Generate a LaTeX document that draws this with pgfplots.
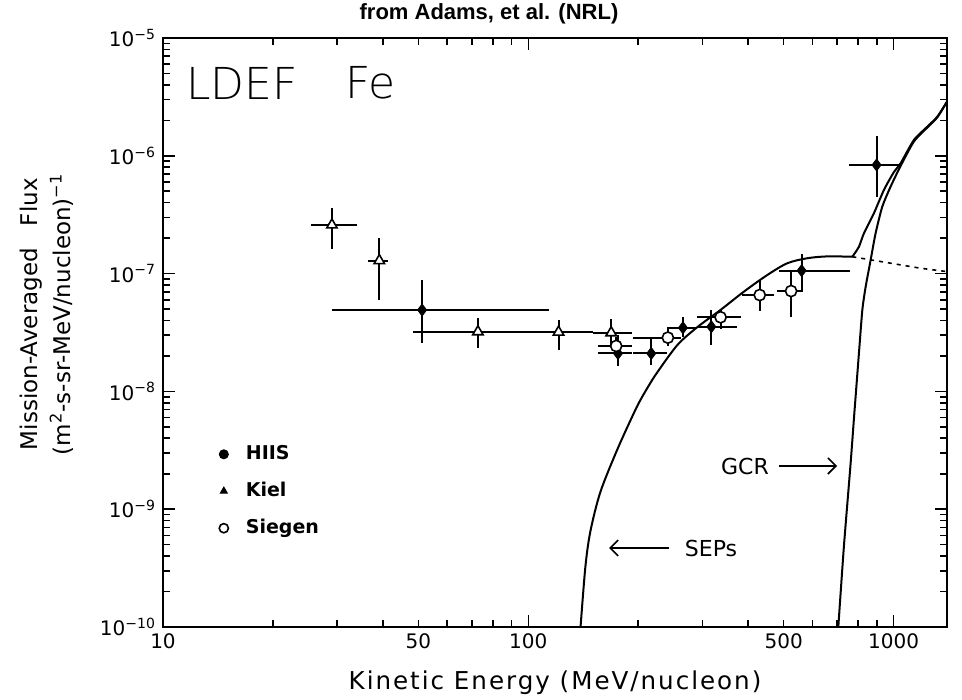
\documentclass[border=0pt]{standalone}
\usepackage{fontspec}
\setmainfont{DejaVu Sans}
\newfontfamily\titlefont{Liberation Sans}
\newfontfamily\thinfont{DejaVu Sans ExtraLight}
\usepackage{pgfplots}
\usepackage{pgfplotstable}
\pgfplotsset{compat=1.18}
\usetikzlibrary{arrows.meta}

% HIIS: x, y, x-minus, x-plus, y-minus, y-plus
\pgfplotstableread{
x y xm xp ym yp
51.2 4.91e-8 22.2 62.8 2.35e-8 3.89e-8
176 2.10e-8 20.5 16 0.45e-8 0.9e-8
217 2.10e-8 23 23 0.42e-8 0.72e-8
265 3.47e-8 25 22 0.57e-8 0.83e-8
317 3.54e-8 27 56 1.06e-8 1.37e-8
560 1.06e-7 76 199 3.34e-8 4.1e-8
898 8.36e-7 144 143 3.92e-7 6.34e-7
}\hiis

\pgfplotstableread{
x y xm xp ym yp
29 2.59e-7 3.6 5.0 0.97e-7 1.01e-7
39.1 1.29e-7 2.7 2.2 0.693e-7 0.71e-7
72.8 3.21e-8 24.4 22.2 0.89e-8 0.96e-8
121 3.19e-8 26 29 0.95e-8 0.85e-8
168.6 3.15e-8 18.6 23.4 0.75e-8 0.95e-8
}\kiel

\pgfplotstableread{
x y xm xp ym yp
174 2.43e-8 18.5 18 0.43e-8 0.47e-8
241 2.86e-8 47 20 0.43e-8 0.69e-8
336 4.26e-8 46 45 0.86e-8 0.64e-8
430 6.58e-8 45 40 1.74e-8 2.25e-8
524 7.11e-8 44 42 2.85e-8 3.29e-8
}\siegen

\begin{document}
\begin{tikzpicture}
\useasboundingbox (-81.5pt,-36.5pt) rectangle (399.5pt,313.5pt);
\begin{axis}[
  at={(0pt,0pt)}, anchor=south west,
  scale only axis, width=392pt, height=294.5pt,
  xmode=log, ymode=log,
  xmin=10, xmax=1400, ymin=1e-10, ymax=1e-5,
  clip=false,
  axis line style={line width=1pt},
  xtick={10,100,1000}, xticklabels={10,100,1000},
  extra x ticks={50,500}, extra x tick labels={50,500},
  extra x tick style={major tick length=3.5pt},
  minor xtick={20,30,40,60,70,80,90,200,300,400,600,700,800,900},
  ytick={1e-10,1e-9,1e-8,1e-7,1e-6,1e-5},
  yticklabels={10\textsuperscript{−10},10\textsuperscript{−9},10\textsuperscript{−8},10\textsuperscript{−7},10\textsuperscript{−6},10\textsuperscript{−5}},
  minor ytick={2e-10,3e-10,4e-10,5e-10,6e-10,7e-10,8e-10,9e-10,
               2e-9,3e-9,4e-9,5e-9,6e-9,7e-9,8e-9,9e-9,
               2e-8,3e-8,4e-8,5e-8,6e-8,7e-8,8e-8,9e-8,
               2e-7,3e-7,4e-7,5e-7,6e-7,7e-7,8e-7,9e-7,
               2e-6,3e-6,4e-6,5e-6,6e-6,7e-6,8e-6,9e-6},
  tick align=inside,
  major tick length=6pt, minor tick length=3.5pt,
  every tick/.style={line width=0.8pt, black},
  ticklabel style={font=\fontsize{10}{12}\selectfont},
  xlabel={Kinetic Energy (MeV/nucleon)},
  xlabel style={at={(0.5,-0.095)}, anchor=center, font=\fontsize{12.3}{14}\selectfont\addfontfeature{LetterSpace=8}},
  ylabel={Mission-Averaged~~~Flux\\(m\textsuperscript{2}-s-sr-MeV/nucleon)\textsuperscript{−1}},
  ylabel style={at={(-0.1486,0.531)}, anchor=center, align=center, font=\fontsize{11.5}{16.5}\selectfont},
  legend style={at={(0.0544,0.322)}, anchor=north west, draw=none, fill=none,
    font=\bfseries\fontsize{9.5}{11}\selectfont, row sep=5.8pt},
  legend cell align=left,
  legend image code/.code={\draw[#1] plot coordinates {(0.2cm,0cm)}; \path (0cm,0cm) (0.51cm,0cm);},
  error bars/error bar style={line width=1pt, black},
]
\addplot[only marks, mark=diamond*, mark size=3pt, black,
  legend image post style={mark=*, mark size=2.3pt},
  error bars/.cd, x dir=both, x explicit, y dir=both, y explicit, error mark=none]
  table[x=x, y=y, x error plus=xp, x error minus=xm, y error plus=yp, y error minus=ym]{\hiis};
\addlegendentry{HIIS}
\addplot[only marks, mark=triangle*, mark size=3pt, black, mark options={fill=white, line width=0.8pt},
  legend image post style={mark size=2pt, mark options={line width=0.5pt}},
  error bars/.cd, x dir=both, x explicit, y dir=both, y explicit, error mark=none]
  table[x=x, y=y, x error plus=xp, x error minus=xm, y error plus=yp, y error minus=ym]{\kiel};
\addlegendentry{Kiel}
\addplot[only marks, mark=*, mark size=2.8pt, black, mark options={fill=white, line width=0.8pt},
  legend image post style={mark size=2.3pt},
  error bars/.cd, x dir=both, x explicit, y dir=both, y explicit, error mark=none]
  table[x=x, y=y, x error plus=xp, x error minus=xm, y error plus=yp, y error minus=ym]{\siegen};
\addlegendentry{Siegen}

% SEP curve
\addplot[black, line width=1pt, smooth, tension=0.5, forget plot] coordinates {
(139,1e-10) (143.3,3.25e-10) (147.9,6.5e-10) (157.5,1.40e-9) (175,3.18e-9)
(194,6.43e-9) (202.7,8.45e-9) (213.3,1.11e-8) (225.7,1.46e-8) (256,2.48e-8) (290.4,3.52e-8)
(335.7,4.91e-8) (389,7.02e-8) (451,9.73e-8) (511.5,1.224e-7) (580,1.35e-7)
(658,1.40e-7) (771,1.39e-7)};
% total (SEP + GCR)
\addplot[black, line width=1pt, smooth, tension=0.4, forget plot] coordinates {
(771,1.39e-7) (803.5,1.69e-7) (829.3,2.20e-7) (883,3.25e-7) (940.6,5.13e-7)
(1002,7.29e-7) (1045,8.64e-7) (1136,1.36e-6) (1237,1.77e-6) (1317,2.15e-6) (1400,2.88e-6)};
% SEP extrapolation (dotted)
\addplot[black, line width=0.8pt, dash pattern=on 2pt off 2.5pt, forget plot] coordinates {
(771,1.39e-7) (1186,1.11e-7) (1400,1.04e-7)};
% GCR
\addplot[black, line width=1pt, smooth, tension=0.4, forget plot] coordinates {
(705.7,1e-10) (730.9,4.81e-10) (762.6,2.45e-9) (780,6.3e-9) (803.5,2.10e-8)
(821,4.91e-8) (838.4,7.74e-8) (865,1.30e-7) (892.6,2.20e-7) (931,3.70e-7)
(981,5.47e-7) (1045,8.2e-7) (1136,1.32e-6) (1237,1.74e-6) (1317,2.12e-6) (1400,2.88e-6)};
\end{axis}

% annotations (pt coordinates relative to axis lower-left)
\node[font=\titlefont\bfseries\fontsize{11}{13}\selectfont] at (163pt,306.5pt) {from Adams, et al. (NRL)};
\node[anchor=west, inner sep=0pt, font=\thinfont\fontsize{22}{24}\selectfont] at (11.5pt,272pt) {LDEF};
\node[anchor=west, inner sep=0pt, font=\thinfont\fontsize{22}{24}\selectfont] at (91pt,272pt) {Fe};
\node[font=\fontsize{11}{13}\selectfont] at (291pt,80.5pt) {GCR};
\draw[line width=0.8pt, -{Straight Barb[length=4pt]}] (308pt,80.5pt) -- (337pt,80.5pt);
\node[font=\fontsize{11}{13}\selectfont] at (274pt,39.5pt) {SEPs};
\draw[line width=0.8pt, -{Straight Barb[length=4pt]}] (253pt,39.5pt) -- (223pt,39.5pt);
\end{tikzpicture}
\end{document}
